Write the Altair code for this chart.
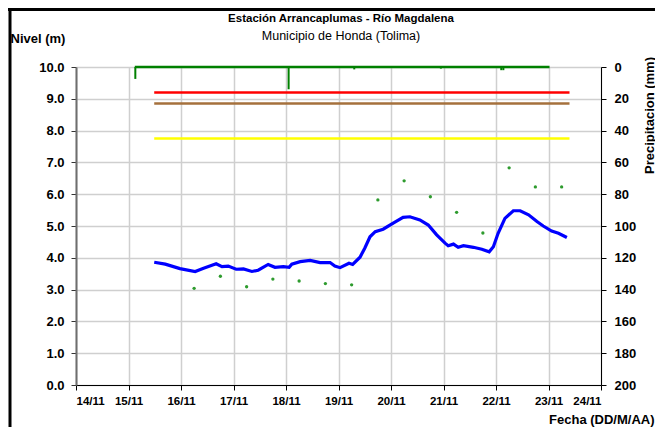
import altair as alt
import pandas as pd

# ---- data ----
level_day = [15.49, 15.70, 15.98, 16.27, 16.43, 16.55, 16.67, 16.78, 16.90, 17.05,
             17.19, 17.35, 17.47, 17.66, 17.79, 17.95, 18.06, 18.11, 18.27, 18.46,
             18.65, 18.84, 18.93, 19.03, 19.20, 19.27, 19.41, 19.50, 19.60, 19.70,
             19.85, 20.05, 20.23, 20.36, 20.55, 20.71, 20.87, 21.03, 21.09, 21.19,
             21.28, 21.38, 21.57, 21.73, 21.87, 21.95, 22.04, 22.17, 22.33, 22.46,
             22.62, 22.78, 22.90, 23.06, 23.19, 23.35]
level_m = [3.86, 3.80, 3.66, 3.57, 3.67, 3.74, 3.81, 3.72, 3.74, 3.64,
           3.65, 3.57, 3.61, 3.79, 3.70, 3.72, 3.70, 3.80, 3.88, 3.92,
           3.85, 3.85, 3.74, 3.69, 3.83, 3.79, 4.02, 4.30, 4.66, 4.82,
           4.90, 5.10, 5.27, 5.29, 5.19, 5.03, 4.72, 4.46, 4.38, 4.43,
           4.33, 4.38, 4.33, 4.27, 4.19, 4.35, 4.77, 5.24, 5.48, 5.48,
           5.35, 5.14, 5.00, 4.84, 4.77, 4.64]

reading_day = [16.25, 16.75, 17.25, 17.75, 18.25, 18.75, 19.25, 19.75,
               20.25, 20.75, 21.25, 21.75, 22.25, 22.75, 23.25]
reading_m = [3.04, 3.42, 3.09, 3.33, 3.27, 3.19, 3.15, 5.82,
             6.42, 5.92, 5.43, 4.78, 6.83, 6.23, 6.23]

threshold_value = [9.2, 8.85, 7.75]
threshold_color = ["#FF0000", "#A5703C", "#FFFF00"]
threshold_start = [15.49, 15.49, 15.49]
threshold_end = [23.40, 23.40, 23.40]

precip_start, precip_end = 15.12, 23.02
precip_day = [15.13, 18.05, 19.30, 20.95, 22.10, 22.14]
precip_mm = [7.5, 14.0, 1.5, 1.0, 2.0, 2.0]

x_ticks = list(range(14, 25))
title_text = "Estación Arrancaplumas - Río Magdalena"
subtitle_text = "Municipio de Honda (Tolima)"
FONT = "Liberation Sans"

level_df = pd.DataFrame({"day": level_day, "nivel": level_m})
read_df = pd.DataFrame({"day": reading_day, "nivel": reading_m})
thr_df = pd.DataFrame({"x1": threshold_start, "x2": threshold_end,
                       "nivel": threshold_value, "c": threshold_color})
p_df = pd.DataFrame({"day": precip_day, "mm": precip_mm, "zero": [0] * len(precip_day)})
pbase_df = pd.DataFrame({"x1": [precip_start], "x2": [precip_end], "mm": [0]})

x_scale = alt.Scale(domain=[14, 24], nice=False, zero=False)
y_scale = alt.Scale(domain=[0, 10], nice=False)
p_scale = alt.Scale(domain=[0, 200], reverse=True, nice=False)

x_axis = alt.Axis(values=x_ticks, labelExpr="datum.value + '/11'", title="Fecha (DD/M/AA)",
                  grid=True, gridColor="#cfcfcf", gridWidth=1.5, domainColor="#000000",
                  tickColor="#000000", tickSize=5, labelPadding=5, labelFontSize=11.5,
                  titleX=578, titleY=34, titleAlign="right", titleBaseline="middle",
                  titleAnchor="end")
y_axis = alt.Axis(values=list(range(0, 11)), format=".1f", title="Nivel (m)",
                  grid=True, gridColor="#cfcfcf", gridWidth=1.5, domainColor="#6e6e6e",
                  domainWidth=2, tickColor="#333333", tickSize=5, labelPadding=7,
                  titleAngle=0, titleX=-66, titleY=-29, titleAlign="left",
                  titleBaseline="middle")
p_axis = alt.Axis(orient="right", values=list(range(0, 201, 20)), format="d",
                  title="Precipitacion (mm)", grid=False, domainColor="#000000",
                  tickColor="#000000", tickSize=5, labelPadding=8,
                  titleAngle=270, titleX=48, titleY=48, titleAlign="center",
                  titleBaseline="middle")

base_x = alt.X("day:Q", scale=x_scale, axis=x_axis)

thr = alt.Chart(thr_df).mark_rule(strokeWidth=2.5).encode(
    x=alt.X("x1:Q", scale=x_scale, axis=x_axis), x2="x2:Q",
    y=alt.Y("nivel:Q", scale=y_scale, axis=y_axis),
    color=alt.Color("c:N", scale=None),
)
line = alt.Chart(level_df).mark_line(color="#0000FF", strokeWidth=3.2).encode(
    x=base_x, y=alt.Y("nivel:Q", scale=y_scale, axis=y_axis)
)
dots = alt.Chart(read_df).mark_circle(color="#2E9B2E", size=11, opacity=1).encode(
    x=base_x, y=alt.Y("nivel:Q", scale=y_scale, axis=y_axis)
)
left = alt.layer(thr, line, dots)

pbase = alt.Chart(pbase_df).mark_rule(color="#008000", strokeWidth=2.5).encode(
    x=alt.X("x1:Q", scale=x_scale, axis=x_axis), x2="x2:Q",
    y=alt.Y("mm:Q", scale=p_scale, axis=p_axis),
)
pbars = alt.Chart(p_df).mark_rule(color="#008000", strokeWidth=2).encode(
    x=base_x, y=alt.Y("zero:Q", scale=p_scale, axis=p_axis), y2="mm:Q"
)
right = alt.layer(pbase, pbars)

one = pd.DataFrame({"a": [0]})
frame_left = alt.Chart(one).mark_rule(color="#000000", strokeWidth=3).encode(
    x=alt.value(-66), y=alt.value(-59), y2=alt.value(360)
)
frame_top = alt.Chart(one).mark_rule(color="#000000", strokeWidth=3).encode(
    x=alt.value(-68), x2=alt.value(579), y=alt.value(-57.5)
)
title_mark = alt.Chart(one).mark_text(
    font=FONT, fontSize=11.5, fontWeight="bold", color="#000000", baseline="middle", align="center"
).encode(x=alt.value(265), y=alt.value(-48), text=alt.value(title_text))
subtitle_mark = alt.Chart(one).mark_text(
    font=FONT, fontSize=12.5, color="#000000", baseline="middle", align="center"
).encode(x=alt.value(265), y=alt.value(-31), text=alt.value(subtitle_text))

chart = alt.layer(left, right, frame_left, frame_top, title_mark, subtitle_mark).resolve_scale(
    y="independent"
).properties(
    width=525, height=318,
    autosize=alt.AutoSizeParams(type="none"),
    padding={"left": 68, "top": 59, "right": 54, "bottom": 42},
).configure_axis(
    labelFont=FONT, titleFont=FONT, labelFontSize=13, titleFontSize=13,
    labelFontWeight="bold", titleFontWeight="bold", labelColor="#000000",
    titleColor="#000000",
).configure_view(strokeWidth=0)

chart.save("out.html", embed_options={"renderer": "svg", "actions": False})
